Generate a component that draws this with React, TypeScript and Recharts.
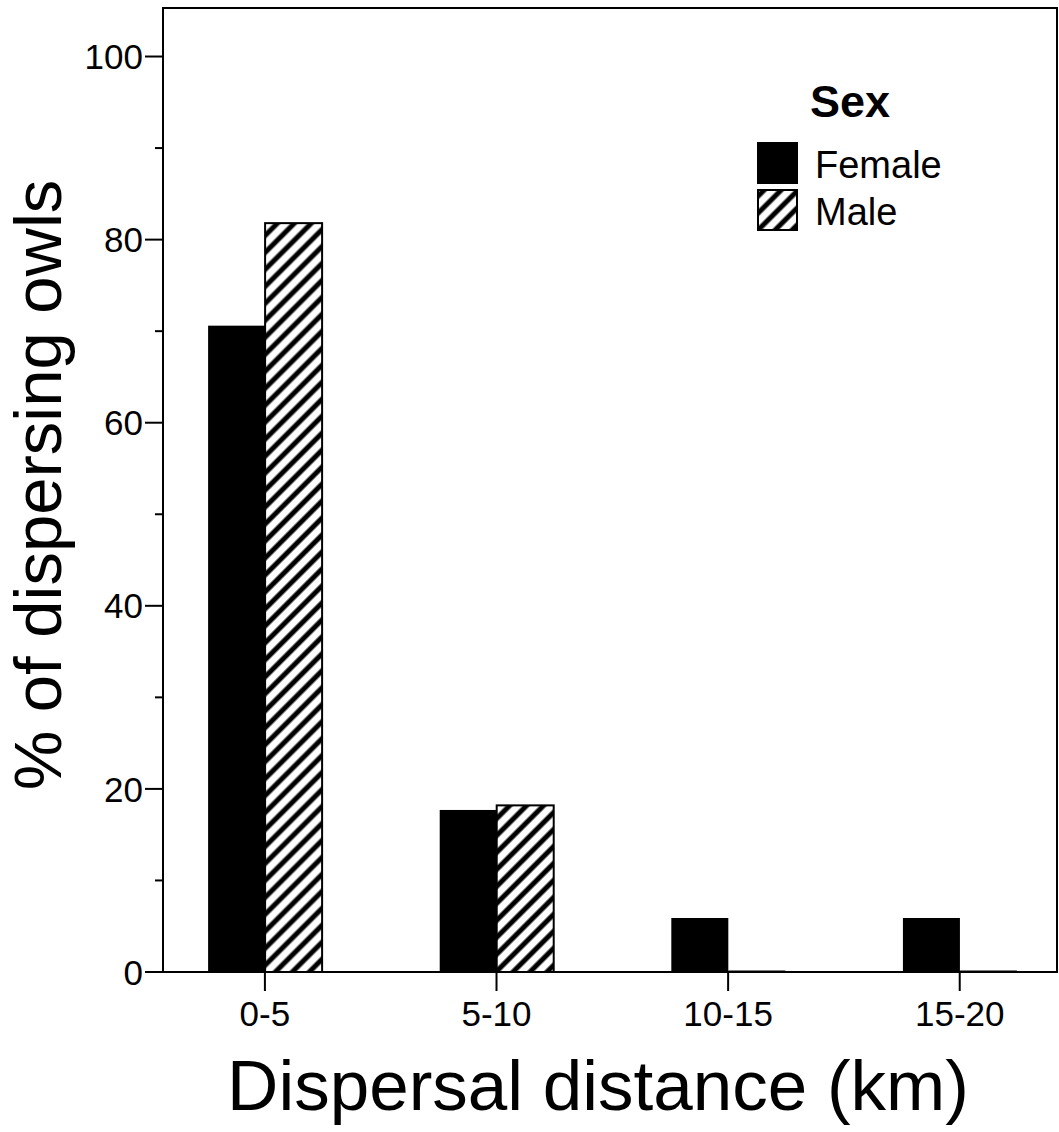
import React from "react"
import { BarChart, Bar, XAxis, YAxis, ReferenceArea, Label } from "recharts"

// dispersal distance classes and % of owls per sex
const categories = ["0-5", "5-10", "10-15", "15-20"]
const femaleValues = [70.6, 17.7, 5.9, 5.9]
const maleValues = [81.8, 18.2, 0, 0]
const yTicks = [0, 10, 20, 30, 40, 50, 60, 70, 80, 90, 100]
const yMajor = [0, 20, 40, 60, 80, 100]
const legendItems = ["Female", "Male"]

const data = categories.map((label, i) => ({
  pos: i,
  label,
  female: femaleValues[i],
  male: maleValues[i],
}))

const FONT = '"Liberation Sans", Arial, sans-serif'
const X_DOMAIN: [number, number] = [-0.44, 3.42]
const Y_DOMAIN: [number, number] = [0, 105.3]

function YTick(props: any) {
  const { x, y, payload } = props
  const major = yMajor.includes(payload.value)
  const lineEnd = x + 20
  return (
    <g>
      <line x1={major ? lineEnd - 18 : lineEnd - 8} x2={lineEnd} y1={y} y2={y} stroke="#000" strokeWidth={2} />
      {major && (
        <text x={x} y={y} dy="0.36em" textAnchor="end" fontSize={35} fontFamily={FONT} fill="#000">
          {payload.value}
        </text>
      )}
    </g>
  )
}

function FemaleShape(props: any) {
  const { x, y, width, height } = props
  if (!height) return <line x1={x} x2={x + width} y1={y} y2={y} stroke="#000" strokeWidth={3} />
  return <rect x={x} y={y} width={width} height={height} fill="#000" />
}

function MaleShape(props: any) {
  const { x, y, width, height } = props
  if (!height) return <line x1={x} x2={x + width} y1={y} y2={y} stroke="#000" strokeWidth={3} />
  return <rect x={x} y={y} width={width} height={height} fill="url(#hatch)" stroke="#000" strokeWidth={2} />
}

function SexLegend() {
  return (
    <svg width={260} height={170} style={{ display: "block" }}>
      <defs>
        <pattern id="hatchLegend" patternUnits="userSpaceOnUse" width={12} height={12} patternTransform="rotate(45)">
          <rect width={12} height={12} fill="#fff" />
          <line x1={6} x2={6} y1={0} y2={12} stroke="#000" strokeWidth={5} />
        </pattern>
      </defs>
      <text x={110} y={47} textAnchor="middle" fontSize={45} fontWeight="bold" fontFamily={FONT} fill="#000">
        Sex
      </text>
      {legendItems.map((name, i) => (
        <g key={name}>
          <rect
            x={18}
            y={73 + i * 47}
            width={39}
            height={40}
            fill={i === 0 ? "#000" : "url(#hatchLegend)"}
            stroke="#000"
            strokeWidth={2}
          />
          <text x={75} y={108 + i * 47} fontSize={38} fontFamily={FONT} fill="#000">
            {name}
          </text>
        </g>
      ))}
    </svg>
  )
}

export default function App() {
  return (
    <div style={{ position: "absolute", left: 0, top: 0, width: 1059, height: 1132, background: "#fff" }}>
      <svg width={0} height={0} style={{ position: "absolute" }}>
        <defs>
          <pattern id="hatch" patternUnits="userSpaceOnUse" width={12} height={12} patternTransform="rotate(45)">
            <rect width={12} height={12} fill="#fff" />
            <line x1={6} x2={6} y1={0} y2={12} stroke="#000" strokeWidth={5} />
          </pattern>
        </defs>
      </svg>
      <BarChart
        width={1059}
        height={1132}
        data={data}
        margin={{ top: 8, right: 2, left: 0, bottom: 0 }}
        barGap={0}
      >
        <XAxis
          dataKey="pos"
          type="number"
          domain={X_DOMAIN}
          ticks={[0, 1, 2, 3]}
          tickFormatter={(i: number) => categories[i]}
          height={160}
          tickSize={19}
          tickMargin={10}
          interval={0}
          axisLine={{ stroke: "#000", strokeWidth: 2 }}
          tickLine={{ stroke: "#000", strokeWidth: 2 }}
          tick={{ fontSize: 35, fontFamily: FONT, fill: "#000" }}
          allowDataOverflow
        >
          <Label
            content={({ viewBox }: any) => (
              <text
                x={viewBox.x + viewBox.width / 2 - 12}
                y={viewBox.y + 138}
                textAnchor="middle"
                fontSize={71}
                fontFamily={FONT}
                fill="#000"
              >
                Dispersal distance (km)
              </text>
            )}
          />
        </XAxis>
        <YAxis
          type="number"
          domain={Y_DOMAIN}
          ticks={yTicks}
          width={163}
          tickSize={18}
          tickMargin={2}
          tickLine={false}
          axisLine={{ stroke: "#000", strokeWidth: 2 }}
          tick={<YTick />}
          interval={0}
          allowDataOverflow
        >
          <Label
            content={({ viewBox }: any) => {
              const cx = 61
              const cy = viewBox.y + viewBox.height / 2 - 5
              return (
                <text
                  x={cx}
                  y={cy}
                  textAnchor="middle"
                  fontSize={67}
                  fontFamily={FONT}
                  fill="#000"
                  transform={`rotate(-90, ${cx}, ${cy})`}
                >
                  % of dispersing owls
                </text>
              )
            }}
          />
        </YAxis>
        <ReferenceArea
          x1={X_DOMAIN[0]}
          x2={X_DOMAIN[1]}
          y1={Y_DOMAIN[0]}
          y2={Y_DOMAIN[1]}
          fill="none"
          stroke="#000"
          strokeWidth={2}
          ifOverflow="visible"
        />
        <Bar dataKey="female" name="Female" barSize={57} shape={<FemaleShape />} isAnimationActive={false} />
        <Bar dataKey="male" name="Male" barSize={57} shape={<MaleShape />} isAnimationActive={false} />
      </BarChart>
      <div style={{ position: "absolute", left: 740, top: 70 }}>
        <SexLegend />
      </div>
    </div>
  )
}
